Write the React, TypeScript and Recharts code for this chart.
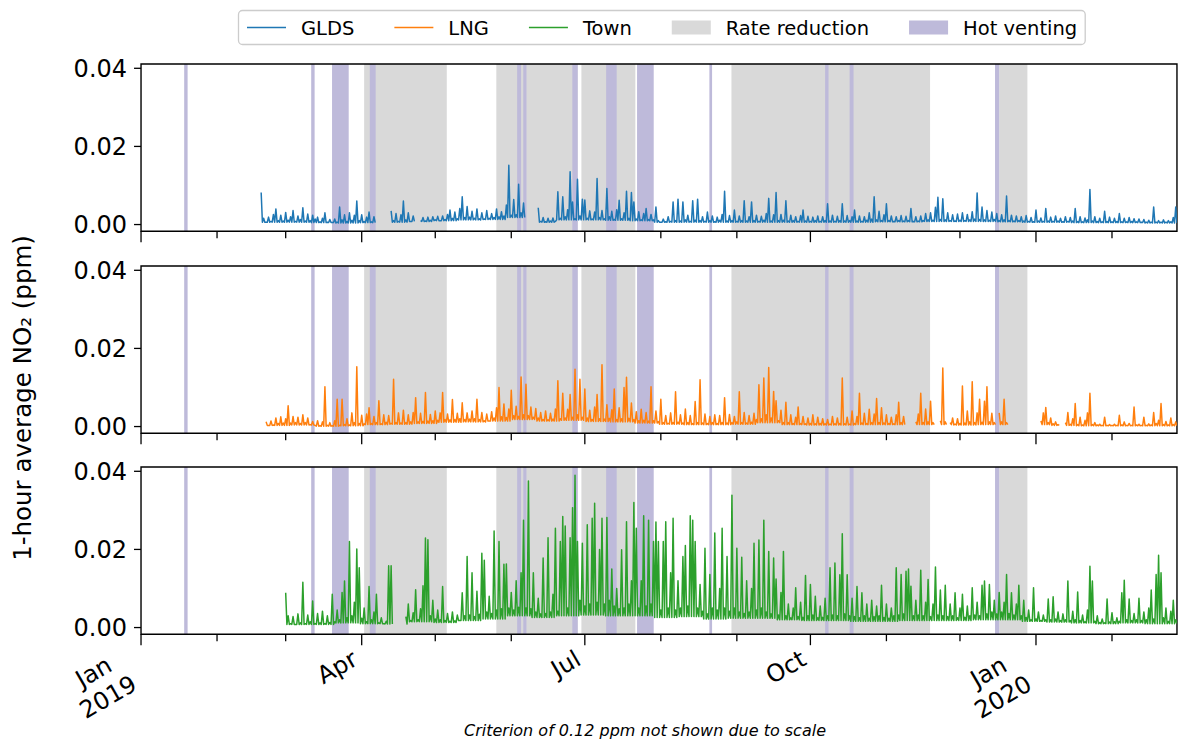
import { LineChart, Line, XAxis, YAxis, ReferenceArea } from 'recharts';

const FONT = '"DejaVu Sans", sans-serif';
const W = 1178;
const PLOT_H = 167.2;
const PAD = 10;
const X_MAX = 422.5; // days after 1 Jan 2019
const Y_MIN = -0.0017;
const Y_MAX = 0.0411;
const TICK_FONT = 24;

// month starts (days after 1 Jan 2019)
const monthTicks = [0, 31, 59, 90, 120, 151, 181, 212, 243, 273, 304, 334, 365, 396];
const majorTicks = [0, 90, 181, 273, 365];
const majorTickLabels = ['Jan\n2019', 'Apr', 'Jul', 'Oct', 'Jan\n2020'];
const yTicks = [0, 0.02, 0.04];

const legendLabels = ['GLDS', 'LNG', 'Town', 'Rate reduction', 'Hot venting'];

// operating periods, [start day, end day]
const rateReduction: [number, number][] = [
  [91.0, 124.7], [144.9, 178.1], [179.6, 201.6], [240.8, 321.8], [350.0, 361.5],
];
const hotVenting: [number, number][] = [
  [17.6, 19.0], [69.4, 70.8], [77.9, 84.7], [93.3, 95.7], [153.4, 155.0], [155.9, 157.2],
  [175.9, 178.1], [189.7, 194.0], [202.3, 209.1], [231.8, 232.9], [279.0, 280.4],
  [289.0, 290.6], [348.3, 350.0],
];

// 1-hour NO2 in ppb: daily peak readings (null = no data) and the
// quiet-hour floor for each 10-day block
const gldsStart = 49;
const glds: (number | null)[] = [
  8.2, 1.6, 0.6, 1.9, 0.8, 2.6, 4.0, 1.0, 2.4, 0.9,
  3.1, 1.1, 2.0, 3.6, 0.8, 2.2, 1.3, 4.3, 0.9, 2.7,
  1.0, 2.4, 1.4, 1.9, 0.7, 1.6, 3.0, 0.6, 1.3, 0.5,
  1.4, 0.6, 4.5, 1.2, 2.5, 0.8, 3.0, 1.1, 2.4, 6.0,
  1.0, 2.5, 0.8, 1.9, 3.2, 0.7, 2.0, null, null, null,
  null, null, null, 3.5, 1.0, 2.8, 0.8, 2.5, 6.0, 1.2,
  3.0, 0.8, 2.2, null, null, 1.0, 1.8, 0.9, 1.9, 1.1,
  2.0, 1.2, 2.1, 1.0, 2.2, 1.3, 2.6, 3.7, 1.6, 3.2,
  1.5, 4.1, 7.1, 1.8, 4.6, 1.9, 3.4, 1.6, 4.0, 1.5,
  3.0, 1.4, 3.6, 1.6, 2.8, 1.8, 4.0, 2.0, 3.3, 2.2,
  5.0, 15.2, 2.4, 6.4, 2.5, 10.3, 3.0, 5.5, null, null,
  null, null, null, 4.3, 0.8, 1.8, 0.7, 1.6, 0.9, 1.7,
  0.8, 8.4, 1.6, 7.1, 2.0, 3.8, 13.5, 5.8, 1.5, 11.6,
  2.2, 6.5, 6.3, 1.6, 3.5, 1.4, 3.2, 11.8, 1.8, 3.6,
  1.5, 9.2, 2.0, 3.4, 1.3, 3.8, 6.2, 1.5, 3.0, 8.5,
  1.6, 8.2, 5.8, 1.4, 3.3, 1.2, 2.8, 4.1, 1.3, 2.6,
  1.2, 4.5, 1.0, 0.6, 1.4, 0.7, 2.0, 0.8, 5.8, 1.0,
  6.5, 0.9, 5.8, 1.2, 2.4, 0.8, 6.1, 1.1, 6.5, 1.0,
  2.0, 0.8, 3.2, 1.0, 2.2, 0.7, 1.9, 1.1, 2.6, 8.5,
  0.9, 2.3, 1.0, 3.7, 0.8, 2.2, 1.0, 6.1, 0.9, 2.0,
  5.8, 1.0, 2.4, 0.8, 2.1, 1.1, 2.8, 6.7, 0.9, 2.5,
  8.2, 1.0, 2.6, 1.1, 6.1, 0.9, 2.4, 1.0, 2.0, 0.8,
  2.3, 3.7, 0.9, 2.1, 0.8, 1.9, 1.0, 2.2, 0.8, 2.0,
  1.0, 5.3, 0.9, 2.4, 0.8, 2.1, 1.0, 5.3, 0.9, 2.3,
  1.0, 2.0, 3.7, 0.9, 2.2, 0.8, 2.0, 1.1, 3.0, 1.4,
  7.1, 1.2, 3.4, 1.0, 2.5, 5.3, 1.0, 2.2, 0.8, 2.0,
  1.0, 2.3, 0.9, 2.1, 1.0, 4.1, 0.8, 2.0, 0.9, 2.2,
  1.0, 2.8, 1.2, 3.0, 1.1, 4.4, 7.0, 1.3, 6.6, 1.2,
  3.0, 1.0, 2.5, 0.9, 2.7, 1.1, 3.0, 1.0, 2.6, 1.2,
  3.3, 1.4, 8.1, 1.3, 4.5, 1.2, 3.6, 1.1, 3.2, 1.3,
  2.8, 1.0, 2.5, 1.2, 7.3, 1.0, 2.4, 0.9, 2.2, 1.0,
  2.0, 0.9, 2.3, 0.8, 1.8, 0.7, 3.7, 0.9, 1.7, 0.8,
  4.1, 0.9, 1.9, 0.8, 2.2, 0.9, 1.6, 0.7, 2.0, 0.8,
  1.8, 0.9, 4.1, 0.8, 2.0, 0.7, 1.7, 1.2, 9.0, 0.9,
  2.0, 0.8, 1.6, 0.7, 3.4, 0.8, 1.9, 0.7, 1.6, 0.8,
  2.8, 0.7, 1.6, 0.7, 1.8, 0.8, 1.5, 0.7, 1.4, 0.6,
  1.3, 0.6, 1.1, 0.6, 4.5, 0.6, 1.0, 0.6, 1.2, 0.6,
  1.0, 0.7, 1.8, 4.5,
];
const gldsFloor = [
  0.6, 0.6, 0.5, 0.4, 0.5, 0.6, 0.8, 1.0, 1.2, 1.3,
  1.8, 0.6, 1.2, 1.2, 1.1, 1.0, 0.6, 0.6, 0.6, 0.6,
  0.6, 0.6, 0.6, 0.6, 0.6, 0.7, 0.7, 0.8, 0.8, 0.8,
  0.7, 0.6, 0.6, 0.5, 0.5, 0.5, 0.4, 0.4,
];

const lngStart = 51;
const lng: (number | null)[] = [
  1.2, 0.3, 1.4, 0.4, 2.2, 0.8, 2.5, 0.9, 2.0, 5.3,
  0.9, 2.6, 1.0, 2.4, 0.8, 3.0, 1.0, 2.2, 0.5, 1.3,
  0.3, 1.5, 0.2, 1.2, 10.2, 0.3, 1.0, 0.2, 1.5, 7.0,
  0.3, 7.0, 0.5, 2.0, 0.4, 3.5, 1.0, 15.3, 0.8, 2.9,
  0.7, 3.2, 4.8, 0.8, 2.6, 1.0, 6.6, 0.7, 3.0, 1.1,
  2.8, 0.8, 12.1, 1.0, 3.5, 0.9, 4.2, 1.0, 3.0, 1.2,
  3.6, 7.4, 1.2, 3.4, 1.3, 8.7, 1.4, 3.1, 1.5, 4.0,
  1.6, 3.5, 8.7, 1.8, 3.2, 1.7, 6.9, 1.8, 3.4, 2.0,
  6.1, 1.8, 3.5, 1.9, 4.0, 2.0, 7.0, 1.8, 3.6, 1.5,
  3.2, 1.4, 3.8, 2.2, 4.8, 10.0, 2.5, 5.8, 2.3, 4.5,
  9.3, 2.8, 5.2, 2.6, 12.7, 3.0, 10.8, 2.8, 5.0, 2.4,
  4.6, 2.2, 3.6, 1.8, 4.0, 1.7, 3.4, 1.9, 4.5, 11.7,
  2.0, 8.5, 2.2, 4.4, 8.2, 2.4, 14.7, 3.0, 12.1, 2.4,
  9.6, 2.2, 4.2, 1.8, 5.0, 8.2, 2.0, 15.8, 1.9, 5.6,
  2.1, 4.3, 9.6, 1.8, 4.8, 2.0, 10.0, 12.6, 2.1, 6.0,
  1.8, 3.8, 1.5, 4.4, 1.6, 3.6, 1.4, 10.2, 1.5, 4.0,
  1.3, 7.0, 1.0, 2.8, 0.8, 3.5, 1.0, 8.9, 1.1, 3.0,
  0.9, 4.5, 1.0, 2.8, 0.8, 6.4, 1.0, 12.0, 0.9, 3.2,
  0.8, 2.6, 1.0, 3.0, 0.8, 2.8, 1.0, 7.4, 0.9, 3.1,
  1.0, 2.6, 1.2, 8.9, 1.0, 3.6, 0.9, 2.8, 1.1, 3.4,
  1.8, 10.7, 2.0, 12.4, 3.0, 15.1, 2.2, 9.0, 6.6, 1.5,
  4.2, 1.0, 6.2, 1.0, 3.0, 0.8, 2.4, 5.0, 0.8, 2.6,
  0.7, 2.2, 0.8, 3.0, 0.7, 2.4, 0.8, 2.0, 0.7, 1.8,
  0.6, 2.6, 0.7, 2.2, 0.8, 12.4, 0.7, 2.4, 0.6, 4.0,
  0.8, 2.6, 8.5, 0.9, 3.4, 0.8, 4.4, 1.0, 3.2, 7.2,
  1.0, 4.8, 0.9, 3.0, 0.8, 2.4, 0.7, 3.0, 6.2, 1.0,
  2.6, null, null, null, null, 1.2, 3.2, 8.5, 1.0, 4.5,
  1.2, 6.5, 1.0, null, null, 1.5, 15.0, 1.2, null, 1.0,
  2.2, 0.6, 2.0, 0.8, 10.4, 0.9, 4.0, 1.2, 11.5, 1.0,
  3.5, 7.0, 1.1, 6.5, 10.2, 1.2, 3.4, 1.0, null, 3.5,
  1.2, 7.0, 1.0, null, null, null, null, null, null, null,
  null, null, null, null, null, null, 1.4, 3.5, 4.9, 1.0,
  2.2, 0.7, 1.2, 0.5, null, null, 1.0, 3.6, 0.6, 2.0,
  5.9, 0.5, 2.4, 0.4, 1.6, 3.5, 8.5, 0.5, 1.0, 0.4,
  0.6, 0.3, 2.4, 0.3, 0.5, 0.3, 0.6, 0.3, 2.9, 0.4,
  1.2, 0.3, 0.8, 0.3, 5.0, 0.4, 0.6, 0.3, 2.4, 0.3,
  0.7, 0.4, 3.6, 0.8, 1.6, 5.9, 0.5, 1.3, 0.4, 2.2,
  0.5, 1.2,
];
const lngFloor = [
  0.3, 0.4, 0.1, 0.2, 0.5, 0.6, 0.8, 1.1, 1.2, 1.4,
  1.8, 1.4, 1.6, 1.3, 1.2, 0.9, 0.6, 0.5, 0.5, 0.6,
  1.0, 0.5, 0.4, 0.4, 0.5, 0.5, 0.5, 0.5, 0.4, 0.5,
  0.5, 0.5, 0.3, 0.2, 0.2, 0.2, 0.2, 0.2,
];

const townStart = 59;
const town: (number | null)[] = [
  8.9, 3.0, 1.0, 2.8, 0.8, 3.5, 1.2, 11.6, 1.0, 3.2,
  1.5, 6.8, 1.0, 3.6, 1.2, 4.2, 1.0, 3.0, 1.3, 8.5,
  1.5, 4.5, 2.0, 9.0, 11.9, 2.5, 22.0, 3.0, 6.5, 20.1,
  15.3, 2.4, 5.0, 1.5, 10.5, 2.0, 4.0, 8.5, 1.2, 2.5,
  1.0, 1.6, 15.8, 15.8, null, null, null, null, null, 2.8,
  6.0, 1.8, 3.8, 9.7, 2.0, 4.8, 10.7, 22.9, 22.5, 3.0,
  7.0, 2.2, 4.5, 2.0, 10.5, 1.8, 3.6, 1.6, 4.0, 1.7,
  3.2, 1.8, 8.9, 3.0, 18.2, 3.2, 14.0, 2.8, 9.3, 3.4,
  19.0, 17.2, 4.0, 8.0, 3.6, 24.7, 4.5, 22.0, 4.8, 16.2,
  16.3, 5.0, 9.0, 4.5, 12.0, 5.2, 14.0, 27.5, 5.0, 37.5,
  4.8, 14.0, 4.0, 7.5, 3.5, 17.8, 3.6, 23.0, 4.0, 8.5,
  25.4, 4.2, 22.0, 28.4, 26.0, 5.0, 23.0, 30.7, 39.0, 22.0,
  7.0, 21.6, 5.5, 26.3, 6.0, 28.0, 31.8, 6.5, 20.0, 28.0,
  6.0, 28.2, 7.0, 15.0, 5.5, 10.0, 4.8, 19.9, 5.0, 27.1,
  6.0, 12.0, 32.0, 25.4, 5.0, 12.0, 28.6, 5.5, 27.5, 6.0,
  22.0, 27.0, 22.0, 4.5, 22.0, 27.1, 5.0, 14.0, 28.0, 4.5,
  12.0, 5.0, 18.2, 21.0, 5.5, 28.6, 27.5, 22.0, 5.0, 11.0,
  4.2, 20.3, 3.5, 13.6, 5.0, 24.2, 4.5, 10.0, 25.4, 5.0,
  18.2, 4.2, 33.9, 5.0, 20.3, 4.0, 18.0, 3.6, 12.0, 4.0,
  10.0, 21.6, 4.5, 22.4, 5.0, 27.5, 4.0, 19.5, 3.5, 17.8,
  12.4, 3.2, 9.0, 19.5, 3.0, 6.0, 2.5, 5.0, 10.2, 2.8,
  6.5, 2.6, 13.3, 3.0, 11.0, 3.2, 8.0, 2.5, 5.5, 2.6,
  7.5, 3.0, 15.3, 3.2, 16.5, 3.0, 13.5, 24.0, 3.5, 13.5,
  3.0, 7.5, 2.8, 10.5, 2.5, 8.9, 3.0, 6.0, 2.4, 7.0,
  2.8, 5.5, 3.0, 10.8, 2.6, 6.0, 2.4, 5.0, 3.0, 15.3,
  3.2, 13.6, 3.5, 14.4, 15.0, 10.6, 3.0, 7.0, 3.2, 14.7,
  3.0, 6.5, 12.3, 2.8, 6.0, 15.5, 3.2, 9.6, 3.0, 10.8,
  2.8, 6.0, 3.0, 8.9, 2.5, 5.0, 8.5, 2.6, 5.5, 3.0,
  10.2, 3.2, 6.5, 3.0, 10.8, 11.9, 3.5, 11.0, 4.0, 7.0,
  3.5, 9.0, 4.0, 6.5, 13.6, 3.6, 8.9, 3.2, 6.0, 10.8,
  3.0, 7.0, 2.6, 4.5, 2.0, 10.2, 2.2, 4.0, 1.8, 3.2,
  2.0, 7.3, 2.0, 7.9, 2.2, 4.0, 1.8, 3.5, 2.0, 11.9,
  1.8, 4.2, 2.0, 9.1, 1.8, 3.2, 1.5, 4.5, 15.7, 11.9,
  1.6, 3.0, 1.3, 2.2, 1.2, 7.3, 1.4, 3.8, 1.5, 2.5,
  1.6, 8.9, 12.1, 2.0, 7.3, 1.8, 3.6, 2.0, 7.5, 1.8,
  4.0, 2.0, 5.0, 9.6, 2.2, 13.6, 18.5, 14.0, 2.5, 5.0,
  1.6, 4.2, 7.0, 2.0,
];
const townFloor = [
  0.8, 0.8, 1.2, 1.0, 0.9, 1.5, 1.3, 1.8, 2.2, 3.0,
  2.6, 3.0, 3.2, 3.0, 3.0, 2.6, 2.8, 2.2, 2.4, 2.4,
  2.0, 1.8, 1.8, 1.6, 1.6, 1.8, 1.8, 1.8, 2.0, 2.0,
  1.6, 1.4, 1.2, 1.0, 1.2, 1.0, 1.0,
];

const COLORS = { glds: '#1f77b4', lng: '#ff7f0e', town: '#2ca02c', rate: '#d9d9d9', vent: '#bebada' };

// each day: its reading, then the block floor half a day later
function toRows(start: number, ppb: (number | null)[], floor: number[]) {
  const rows: { day: number; v: number | null }[] = [];
  ppb.forEach((v, i) => {
    const f = floor[Math.floor(i / 10)];
    rows.push({ day: start + i, v: v == null ? null : v / 1000 });
    rows.push({ day: start + i + 0.5, v: v == null ? null : f / 1000 });
  });
  return rows;
}

const measureCtx = document.createElement('canvas').getContext('2d');
function textWidth(s: string, size: number, style = '') {
  if (!measureCtx) return s.length * size * 0.6;
  measureCtx.font = `${style} ${size}px "DejaVu Sans"`;
  return measureCtx.measureText(s).width;
}

// label rotated 30 deg, its bounding box hung by the top-right corner
function SlantLabel({ x, y, text }: { x: number; y: number; text: string }) {
  const size = TICK_FONT;
  const lines = text.split('\n');
  const lineH = size * 1.2;
  const w = Math.max(...lines.map((l) => textWidth(l, size)));
  const h = size + (lines.length - 1) * lineH;
  const c = Math.cos(Math.PI / 6);
  const s = Math.sin(Math.PI / 6);
  const ox = x - (c * w + s * h);
  const oy = y + s * w;
  return (
    <g transform={`translate(${ox},${oy}) rotate(-30)`}>
      {lines.map((l, k) => (
        <text key={k} x={w / 2} y={size * 0.8 + k * lineH} textAnchor="middle" fontSize={size} fill="#000">
          {l}
        </text>
      ))}
    </g>
  );
}

function MonthTick(props: any) {
  const { x, y, payload, showLabels } = props;
  const i = majorTicks.indexOf(payload.value);
  const len = i >= 0 ? 11 : 7;
  return (
    <g>
      <line x1={x} x2={x} y1={y} y2={y + len} stroke="#000" strokeWidth={1.3} />
      {showLabels && i >= 0 && <SlantLabel x={x} y={y + len + 2} text={majorTickLabels[i]} />}
    </g>
  );
}

function Panel({ rows, color, top, showLabels }: { rows: any[]; color: string; top: number; showLabels: boolean }) {
  const axisH = showLabels ? 100 : 16;
  return (
    <div style={{ position: 'absolute', left: 0, top: top - PAD }}>
      <LineChart width={W} height={PAD + PLOT_H + axisH} data={rows} margin={{ top: PAD, right: 1, bottom: 0, left: 0 }}>
        <XAxis
          dataKey="day"
          type="number"
          domain={[0, X_MAX]}
          allowDataOverflow
          ticks={monthTicks}
          interval={0}
          height={axisH}
          axisLine={false}
          tickLine={false}
          tickSize={0}
          tickMargin={0}
          tick={<MonthTick showLabels={showLabels} />}
        />
        <YAxis
          type="number"
          domain={[Y_MIN, Y_MAX]}
          allowDataOverflow
          ticks={yTicks}
          interval={0}
          width={141}
          axisLine={false}
          tickSize={7}
          tickMargin={7}
          tickLine={{ stroke: '#000', strokeWidth: 1.3 }}
          tick={{ fill: '#000', fontSize: TICK_FONT }}
          tickFormatter={(v: number) => v.toFixed(2)}
        />
        {rateReduction.map(([a, b]) => (
          <ReferenceArea key={'r' + a} x1={a} x2={b} fill={COLORS.rate} fillOpacity={1} stroke="none" ifOverflow="hidden" />
        ))}
        {hotVenting.map(([a, b]) => (
          <ReferenceArea key={'h' + a} x1={a} x2={b} fill={COLORS.vent} fillOpacity={1} stroke="none" ifOverflow="hidden" />
        ))}
        <Line
          dataKey="v"
          stroke={color}
          strokeWidth={1.5}
          strokeLinejoin="round"
          dot={false}
          activeDot={false}
          connectNulls={false}
          isAnimationActive={false}
        />
        <ReferenceArea x1={0} x2={X_MAX} y1={Y_MIN} y2={Y_MAX} fill="none" stroke="#000" strokeWidth={1.4} ifOverflow="visible" />
      </LineChart>
    </div>
  );
}

function LegendBox() {
  const size = 19.5;
  const handle = 39;
  const gap = 15;
  const colGap = 40;
  let cx = 247;
  const items = legendLabels.map((label, i) => {
    const x0 = cx;
    const tw = textWidth(label, size);
    cx += handle + gap + tw + colGap;
    return { label, x0, i };
  });
  const right = cx - colGap + 8;
  const cy = 27.5;
  const handleColor = [COLORS.glds, COLORS.lng, COLORS.town, COLORS.rate, COLORS.vent];
  return (
    <svg width={W} height={60} style={{ position: 'absolute', left: 0, top: 0 }}>
      <rect x={238.5} y={10.5} width={right - 238.5} height={34} rx={4} fill="#fff" stroke="#cccccc" strokeWidth={1.3} />
      {items.map(({ label, x0, i }) => (
        <g key={label}>
          {i < 3 ? (
            <line x1={x0} x2={x0 + handle} y1={cy} y2={cy} stroke={handleColor[i]} strokeWidth={1.5} />
          ) : (
            <rect x={x0} y={cy - 7} width={handle} height={14} fill={handleColor[i]} />
          )}
          <text x={x0 + handle + gap} y={cy} dy="0.36em" fontSize={size} fill="#000">
            {label}
          </text>
        </g>
      ))}
    </svg>
  );
}

export default function App() {
  return (
    <div style={{ position: 'absolute', left: 0, top: 0, width: W, height: 740, background: '#fff', fontFamily: FONT }}>
      <LegendBox />
      <Panel rows={toRows(gldsStart, glds, gldsFloor)} color={COLORS.glds} top={64} showLabels={false} />
      <Panel rows={toRows(lngStart, lng, lngFloor)} color={COLORS.lng} top={265.7} showLabels={false} />
      <Panel rows={toRows(townStart, town, townFloor)} color={COLORS.town} top={467.4} showLabels />
      <svg width={W} height={740} style={{ position: 'absolute', left: 0, top: 0, pointerEvents: 'none' }}>
        <text transform="translate(22,398) rotate(-90)" textAnchor="middle" dy="0.36em" fontSize={24.5} fill="#000">
          1-hour average NO₂ (ppm)
        </text>
        <text x={645} y={736} textAnchor="middle" fontSize={16} fontStyle="italic" fill="#000">
          Criterion of 0.12 ppm not shown due to scale
        </text>
      </svg>
    </div>
  );
}
